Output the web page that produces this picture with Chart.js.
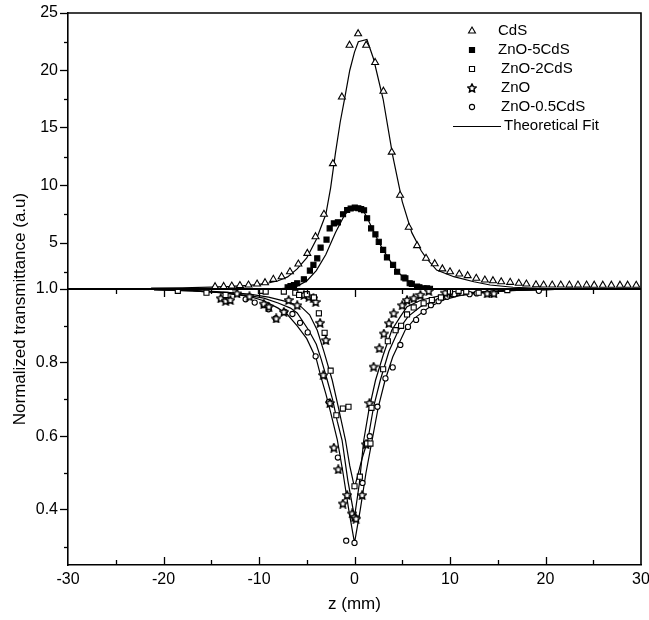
<!DOCTYPE html>
<html><head><meta charset="utf-8">
<script src="https://cdn.jsdelivr.net/npm/chart.js@4/dist/chart.umd.min.js"></script>
<style>html,body{margin:0;padding:0;background:#fff}#wrap{width:649px;height:620px;position:relative}</style>
</head><body><div id="wrap"><canvas id="c" width="649" height="620"></canvas></div>
<script>
// ---------- axis ticks / labels ----------
const X_TICKS = [-30, -20, -10, 0, 10, 20, 30];
const X_MINOR = [-25, -15, -5, 5, 15, 25];
const TOP_TICKS = [1, 5, 10, 15, 20, 25];
const TOP_LABELS = ['1.0', '5', '10', '15', '20', '25'];
const TOP_MINOR = [2.5, 7.5, 12.5, 17.5, 22.5];
const BOT_TICKS = [0.4, 0.6, 0.8];
const BOT_LABELS = ['0.4', '0.6', '0.8'];
const BOT_MINOR = [0.3, 0.5, 0.7, 0.9];
const SERIES_NAMES = ['CdS', 'ZnO-5CdS', 'ZnO-2CdS', 'ZnO', 'ZnO-0.5CdS'];
const FIT_NAME = 'Theoretical Fit';
const X_TITLE = 'z (mm)';
const Y_TITLE = 'Normalized transmittance (a.u)';

// ---------- measured data [z (mm), T] ----------
const cdsData = [[-14.6,1.2],[-13.7,1.22],[-12.85,1.26],[-12.0,1.3],[-11.1,1.35],[-10.2,1.43],[-9.37,1.55],[-8.5,1.84],[-7.63,2.07],[-6.76,2.5],[-5.88,3.17],[-4.94,4.1],[-4.08,5.55],[-3.2,7.5],[-2.26,11.9],[-1.32,17.7],[-0.52,22.2],[0.38,23.2],[1.22,22.2],[2.16,20.7],[3.03,18.2],[3.9,12.9],[4.77,9.15],[5.68,6.37],[6.55,4.77],[7.49,3.67],[8.4,3.2],[9.2,2.75],[10.0,2.5],[10.97,2.3],[11.85,2.16],[12.75,1.93],[13.65,1.78],[14.5,1.72],[15.36,1.63],[16.3,1.58],[17.2,1.5],[18.0,1.43],[19.0,1.37],[19.8,1.35],[20.7,1.35],[21.6,1.35],[22.5,1.34],[23.4,1.34],[24.3,1.34],[25.1,1.33],[26.0,1.33],[26.9,1.33],[27.8,1.33],[28.6,1.33],[29.5,1.32]];
const zno5Data = [[-7.0,1.15],[-6.7,1.26],[-6.34,1.35],[-6.0,1.5],[-5.3,1.85],[-4.67,2.6],[-4.3,3.1],[-3.9,3.67],[-3.55,4.6],[-2.93,5.3],[-2.6,6.28],[-2.16,6.7],[-1.74,6.8],[-1.2,7.5],[-0.77,7.87],[-0.4,8.0],[0.03,8.07],[0.4,8.02],[0.7,7.95],[1.0,7.85],[1.32,7.15],[1.74,6.28],[2.19,5.75],[2.54,5.1],[3.0,4.4],[3.4,3.75],[4.04,3.1],[4.46,2.5],[5.15,2.0],[5.33,1.93],[5.78,1.5],[6.0,1.45],[6.55,1.2],[6.8,1.15],[7.24,1.06],[7.6,1.05],[7.9,1.02]];
const zno2Data = [[-18.5,0.995],[-15.5,0.99],[-13.5,0.984],[-12.5,1.004],[-11.5,1.006],[-9.8,0.995],[-9.3,0.993],[-7.4,0.993],[-6.2,0.99],[-5.8,0.984],[-5.0,0.986],[-4.25,0.977],[-3.73,0.934],[-3.13,0.881],[-2.5,0.778],[-1.9,0.657],[-1.22,0.675],[-0.63,0.68],[0,0.464],[0.56,0.49],[1.32,0.58],[1.67,0.58],[1.78,0.677],[3.0,0.782],[3.49,0.858],[4.3,0.888],[4.88,0.9],[5.5,0.931],[6.2,0.95],[7.24,0.961],[8.1,0.97],[9.05,0.977],[10.0,0.993],[10.9,0.995],[11.7,0.993],[13.0,0.99],[16.0,0.997]];
const znoData = [[-14,0.975],[-13.5,0.968],[-13,0.97],[-12.3,0.988],[-11,0.98],[-9.5,0.96],[-8.96,0.952],[-8.2,0.92],[-7.4,0.938],[-6.9,0.97],[-6.0,0.956],[-5.3,0.984],[-4.77,0.979],[-4.3,0.975],[-4.07,0.965],[-3.6,0.908],[-3.0,0.861],[-3.27,0.766],[-2.58,0.69],[-2.16,0.569],[-1.7,0.51],[-1.22,0.417],[-0.77,0.44],[-0.24,0.39],[0,0.38],[0.17,0.376],[0.8,0.44],[1.22,0.578],[1.57,0.69],[2.0,0.789],[2.6,0.839],[3.07,0.879],[3.6,0.907],[4.1,0.934],[5.0,0.956],[5.5,0.97],[6.2,0.975],[6.9,0.984],[7.77,0.995],[9.5,0.99],[13.9,0.988],[14.6,0.988]];
const zno05Data = [[-18.5,0.997],[-13.3,0.97],[-11.4,0.972],[-10.45,0.963],[-9.5,0.956],[-9.0,0.945],[-8.25,0.92],[-7.3,0.938],[-6.5,0.932],[-5.7,0.908],[-4.9,0.882],[-4.07,0.817],[-2.68,0.693],[-1.74,0.542],[-0.87,0.316],[0,0.31],[0.84,0.473],[1.6,0.6],[2.4,0.68],[3.24,0.757],[4.0,0.787],[4.8,0.848],[5.6,0.897],[6.45,0.916],[7.24,0.938],[8.0,0.956],[8.8,0.967],[9.7,0.979],[10.45,0.986],[11.25,0.99],[12.05,0.986],[12.8,0.988],[14.4,0.988],[19.3,0.995]];

// ---------- theoretical fits [z (mm), T] ----------
const cdsFit = [[-21.3,1.07],[-18,1.11],[-15,1.16],[-13,1.22],[-11,1.32],[-10,1.4],[-9,1.52],[-8,1.72],[-7,2.05],[-6,2.75],[-5,3.7],[-4,5.3],[-3,7.5],[-2.5,9.8],[-2,12.8],[-1.5,15.5],[-1,17.7],[-0.5,20.0],[0,21.6],[0.4,22.5],[1.3,22.7],[2,21.0],[3,17.5],[4,12.6],[5,8.6],[6,5.9],[7,4.3],[7.5,3.7],[8.6,2.65],[10.4,2.07],[12.5,1.63],[14.2,1.35],[16.6,1.15],[20,1.04],[22,1.02]];
const zno5Fit = [[-9,1.0],[-8,1.02],[-7,1.08],[-6,1.25],[-5,1.7],[-4,2.6],[-3,4.0],[-2,5.9],[-1,7.5],[0,8.2],[1,7.7],[1.5,6.9],[2,6.0],[2.5,5.15],[3,4.4],[3.5,3.75],[4,3.1],[4.5,2.55],[5,2.1],[5.5,1.75],[6,1.45],[6.5,1.25],[7,1.12],[8,1.03],[9,1.0]];
const zno2Fit = [[-21,0.998],[-17,0.996],[-14,0.992],[-11,0.986],[-9,0.978],[-7,0.965],[-5.6,0.952],[-4.7,0.93],[-3.9,0.888],[-3.2,0.83],[-2.33,0.752],[-1.7,0.68],[-0.94,0.589],[-0.5,0.52],[0,0.46],[0.5,0.51],[0.8,0.54],[1.39,0.589],[2.0,0.68],[2.7,0.752],[3.6,0.83],[4.6,0.888],[5.6,0.925],[6.9,0.952],[8.5,0.97],[10.5,0.982],[13,0.99],[17,0.996],[21,0.999]];
const znoFit = [[-21,0.998],[-17,0.995],[-14,0.99],[-11,0.982],[-9.5,0.975],[-8,0.962],[-6.7,0.948],[-6,0.935],[-4.8,0.888],[-4,0.85],[-3.5,0.81],[-2.85,0.752],[-2.3,0.7],[-1.8,0.64],[-1.3,0.589],[-0.7,0.48],[0,0.38],[0.5,0.47],[0.97,0.589],[1.5,0.67],[2.2,0.752],[3.0,0.82],[3.9,0.888],[4.8,0.925],[5.5,0.952],[7,0.97],[9,0.982],[12,0.99],[16,0.996],[21,0.999]];
const zno05Fit = [[-21,0.998],[-17,0.995],[-14,0.99],[-11,0.98],[-9.5,0.968],[-8,0.948],[-7,0.93],[-6,0.9],[-5,0.865],[-4,0.81],[-3.5,0.76],[-3,0.715],[-2.5,0.665],[-1.8,0.59],[-1.2,0.5],[-0.6,0.4],[0,0.31],[0.6,0.4],[1.2,0.5],[1.85,0.59],[2.5,0.68],[3.2,0.752],[4,0.815],[5.3,0.888],[6.5,0.925],[7.9,0.952],[9.5,0.972],[11,0.982],[14,0.992],[17,0.997],[21,0.999]];

// ---------- styling ----------
const FONT = "'Liberation Sans', Arial, Helvetica, sans-serif";
const INK = '#000';

function makeStar(size) {
  const c = document.createElement('canvas');
  c.width = size; c.height = size;
  const g = c.getContext('2d');
  const cx = size / 2, cy = size / 2 + 0.4, R = size / 2 - 0.7, r = R * 0.5;
  g.beginPath();
  for (let i = 0; i < 10; i++) {
    const a = -Math.PI / 2 + i * Math.PI / 5;
    const rr = i % 2 === 0 ? R : r;
    const px = cx + rr * Math.cos(a), py = cy + rr * Math.sin(a);
    if (i === 0) g.moveTo(px, py); else g.lineTo(px, py);
  }
  g.closePath();
  g.fillStyle = '#fff'; g.fill();
  g.lineJoin = 'miter';
  g.lineWidth = 1.5; g.strokeStyle = INK; g.stroke();
  return c;
}
const starImg = makeStar(10);

const toXY = arr => arr.map(p => ({x: p[0], y: p[1]}));
function pts(label, data, axis, m) {
  return {label, data: toXY(data), yAxisID: axis, showLine: false,
    pointStyle: m.style, pointRadius: m.r, pointHoverRadius: m.r,
    pointBorderWidth: 1.1, pointBorderColor: INK, pointBackgroundColor: m.fill,
    borderColor: INK, backgroundColor: m.fill};
}
function fit(data, axis) {
  return {label: FIT_NAME, data: toXY(data), yAxisID: axis, showLine: true,
    pointRadius: 0, pointHoverRadius: 0, borderColor: INK, borderWidth: 1.2, tension: 0, fill: false};
}
const markerDefs = [
  {style: 'triangle', r: 4, fill: '#fff'},
  {style: 'rect', r: 3.6, fill: INK},
  {style: 'rect', r: 3.6, fill: '#fff'},
  {style: starImg, r: 4, fill: '#fff'},
  {style: 'circle', r: 2.6, fill: '#fff'}
];

const datasets = [
  pts(SERIES_NAMES[0], cdsData, 'yTop', markerDefs[0]),
  pts(SERIES_NAMES[1], zno5Data, 'yTop', markerDefs[1]),
  pts(SERIES_NAMES[2], zno2Data, 'yBot', markerDefs[2]),
  pts(SERIES_NAMES[3], znoData, 'yBot', markerDefs[3]),
  pts(SERIES_NAMES[4], zno05Data, 'yBot', markerDefs[4]),
  fit(cdsFit, 'yTop'), fit(zno5Fit, 'yTop'),
  fit(zno2Fit, 'yBot'), fit(znoFit, 'yBot'), fit(zno05Fit, 'yBot')
];

function setTicks(values) {
  return scale => { scale.ticks = values.map(v => ({value: v})); };
}
function yScale(min, max, ticks, labels) {
  return {
    type: 'linear', position: 'left', stack: 'ys', stackWeight: 1, min, max,
    afterBuildTicks: setTicks(ticks),
    afterFit: s => { s.width = 68; s.paddingTop = 0; s.paddingBottom = 0; },
    grid: {drawOnChartArea: false, drawTicks: true, tickLength: 8, tickWidth: 1.3, tickColor: INK},
    border: {display: true, color: INK, width: 1.6},
    ticks: {color: INK, padding: 2, font: {family: FONT, size: 16},
      callback: v => { const i = ticks.indexOf(v); return i >= 0 ? labels[i] : ''; }}
  };
}

// frame, middle line, minor ticks, x ticks, legend, y title
const decor = {
  id: 'decor',
  afterDatasetsDraw(chart) {
    const {ctx, chartArea: a, scales} = chart;
    const xs = scales.x, yt = scales.yTop, yb = scales.yBot;
    ctx.save();
    ctx.strokeStyle = INK;
    ctx.lineWidth = 1.6;
    ctx.beginPath();
    ctx.moveTo(a.left, a.top); ctx.lineTo(a.right, a.top); ctx.lineTo(a.right, a.bottom);
    ctx.stroke();
    const ym = yt.getPixelForValue(1);
    ctx.lineWidth = 2.2;
    ctx.beginPath(); ctx.moveTo(a.left, ym); ctx.lineTo(a.right, ym); ctx.stroke();
    ctx.lineWidth = 1.3;
    const xt = (vals, len) => vals.forEach(v => {
      const px = Math.round(xs.getPixelForValue(v)) + 0.5;
      ctx.beginPath(); ctx.moveTo(px, a.bottom); ctx.lineTo(px, a.bottom - len); ctx.stroke();
      ctx.beginPath(); ctx.moveTo(px, ym); ctx.lineTo(px, ym + len); ctx.stroke();
    });
    xt(X_TICKS.filter(v => v > -30 && v < 30), 8);
    xt(X_MINOR, 5);
    const yt2 = (sc, vals) => vals.forEach(v => {
      const py = Math.round(sc.getPixelForValue(v)) + 0.5;
      ctx.beginPath(); ctx.moveTo(a.left, py); ctx.lineTo(a.left - 4, py); ctx.stroke();
    });
    yt2(yt, TOP_MINOR); yt2(yb, BOT_MINOR);
    // legend
    const rows = [31, 50, 69, 88, 107, 126];
    const mx = 472, tx = 498;
    ctx.font = '15px ' + FONT;
    ctx.fillStyle = INK; ctx.textBaseline = 'middle'; ctx.textAlign = 'left';
    const H = Chart.helpers;
    markerDefs.forEach((m, i) => {
      ctx.save();
      ctx.fillStyle = m.fill; ctx.strokeStyle = INK; ctx.lineWidth = 1.1;
      if (H && H.drawPoint) {
        H.drawPoint(ctx, {pointStyle: m.style, radius: m.r, borderWidth: 1.1, rotation: 0}, mx, rows[i]);
      }
      ctx.restore();
      ctx.fillText(SERIES_NAMES[i], tx + (i >= 2 ? 3 : 0), rows[i]);
    });
    ctx.lineWidth = 1.2;
    ctx.beginPath(); ctx.moveTo(453, rows[5] + 0.5); ctx.lineTo(501, rows[5] + 0.5); ctx.stroke();
    ctx.fillText(FIT_NAME, 504, rows[5]);
    ctx.save();
    ctx.translate(20, (a.top + a.bottom) / 2 + 20);
    ctx.rotate(-Math.PI / 2);
    ctx.font = '17px ' + FONT; ctx.textAlign = 'center'; ctx.textBaseline = 'middle';
    ctx.fillText(Y_TITLE, 0, 0);
    ctx.restore();
    ctx.restore();
  }
};

new Chart(document.getElementById('c'), {
  type: 'scatter',
  data: {datasets},
  options: {
    responsive: false, animation: false, devicePixelRatio: 1,
    layout: {padding: {left: 0, right: 8, top: 13, bottom: 0}},
    plugins: {legend: {display: false}, tooltip: {enabled: false}},
    scales: {
      x: {
        type: 'linear', position: 'bottom', min: -30, max: 30,
        afterBuildTicks: setTicks(X_TICKS),
        afterFit: s => { s.height = 55; s.paddingLeft = 0; s.paddingRight = 0; },
        grid: {drawOnChartArea: false, drawTicks: false},
        border: {display: true, color: INK, width: 1.6},
        ticks: {color: INK, padding: 5, font: {family: FONT, size: 16}, maxRotation: 0,
          callback: v => String(v)},
        title: {display: true, text: X_TITLE, color: INK, font: {family: FONT, size: 17}, padding: {top: 2, bottom: 5}}
      },
      yBot: yScale(0.25, 1.0, BOT_TICKS, BOT_LABELS),
      yTop: yScale(1, 25, TOP_TICKS, TOP_LABELS)
    }
  },
  plugins: [decor]
});
</script></body></html>
